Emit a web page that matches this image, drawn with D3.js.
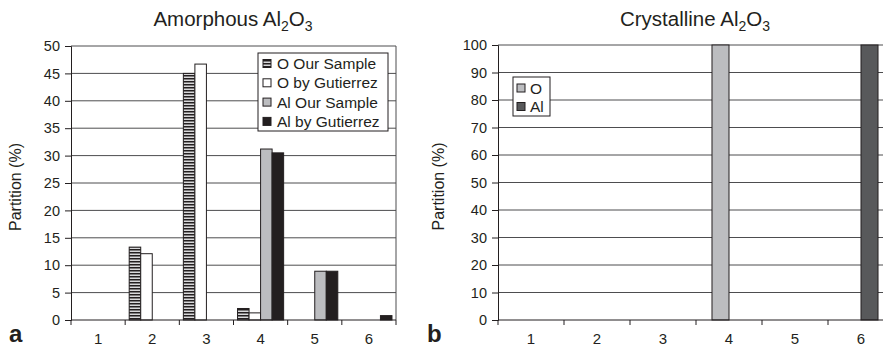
<!DOCTYPE html>
<html>
<head>
<meta charset="utf-8">
<script src="https://cdn.jsdelivr.net/npm/d3@7"></script>
<style>
  body { margin: 0; background: #fff; }
  text { font-family: "Liberation Sans", Arial, sans-serif; fill: #231f20; }
  .tick text { font-size: 14.5px; }
  .grid line { stroke: #4d4d4f; stroke-width: 1; }
</style>
</head>
<body>
<svg id="chart" width="883" height="349"></svg>
<script>
// data
var categories = ["1", "2", "3", "4", "5", "6"];

var amorphSeries = ["O Our Sample", "O by Gutierrez", "Al Our Sample", "Al by Gutierrez"];
var oOurSample   = [0, 13.3, 45.0, 2.1, 0, 0];
var oGutierrez   = [0, 12.1, 46.7, 1.3, 0, 0];
var alOurSample  = [0, 0, 0, 31.2, 8.9, 0];
var alGutierrez  = [0, 0, 0, 30.5, 8.9, 0.8];
var amorphTicks  = [0, 5, 10, 15, 20, 25, 30, 35, 40, 45, 50];

var crystSeries  = ["O", "Al"];
var crystO       = [0, 0, 0, 100, 0, 0];
var crystAl      = [0, 0, 0, 0, 0, 100];
var crystTicks   = [0, 10, 20, 30, 40, 50, 60, 70, 80, 90, 100];

var svg = d3.select("#chart");

// hatch pattern for "O Our Sample"
var defs = svg.append("defs");
var pat = defs.append("pattern")
    .attr("id", "hatch")
    .attr("patternUnits", "userSpaceOnUse")
    .attr("width", 4)
    .attr("height", 3);
pat.append("rect").attr("width", 4).attr("height", 3).attr("fill", "#d9d9db");
pat.append("rect").attr("width", 4).attr("height", 1.5).attr("fill", "#231f20");

function drawPanel(opt) {
    var g = svg.append("g");
    var x = d3.scaleBand().domain(categories).range([opt.left, opt.right]);
    var xs = d3.scaleBand().domain(opt.series).range([0, x.bandwidth()]).paddingOuter(opt.pad);
    var y = d3.scaleLinear().domain([0, opt.max]).range([opt.bottom, opt.top]);

    // gridlines
    g.append("g")
        .attr("class", "grid")
        .selectAll("line")
        .data(opt.ticks.slice(1))
        .enter().append("line")
            .attr("x1", opt.left)
            .attr("x2", opt.right)
            .attr("y1", function(d) { return y(d); })
            .attr("y2", function(d) { return y(d); });

    // right border
    g.append("line")
        .attr("x1", opt.right).attr("x2", opt.right)
        .attr("y1", opt.top).attr("y2", opt.bottom)
        .attr("stroke", "#4d4d4f");

    // bars (zero values are not drawn)
    opt.values.forEach(function(vals, si) {
        var pts = vals.map(function(v, i) { return { cat: categories[i], v: v }; })
                      .filter(function(d) { return d.v > 0; });
        g.append("g").selectAll("rect")
            .data(pts)
            .enter().append("rect")
                .attr("x", function(d) { return x(d.cat) + xs(opt.series[si]); })
                .attr("y", function(d) { return y(d.v); })
                .attr("width", xs.bandwidth())
                .attr("height", function(d) { return opt.bottom - y(d.v); })
                .attr("fill", opt.fills[si])
                .attr("stroke", "#231f20")
                .attr("stroke-width", 1);
    });

    // y axis
    var yAxis = g.append("g")
        .attr("transform", "translate(" + opt.left + ",0)")
        .call(d3.axisLeft(y).tickValues(opt.ticks).tickSize(6).tickPadding(5));
    yAxis.select(".domain").attr("stroke", "#231f20");
    yAxis.selectAll(".tick line").attr("stroke", "#231f20");

    // x axis: ticks at category boundaries
    var edges = d3.range(categories.length + 1).map(function(i) {
        return opt.left + i * x.step();
    });
    g.append("line")
        .attr("x1", opt.left).attr("x2", opt.right)
        .attr("y1", opt.bottom).attr("y2", opt.bottom)
        .attr("stroke", "#231f20");
    g.append("g").selectAll("line")
        .data(edges)
        .enter().append("line")
            .attr("x1", function(d) { return d; })
            .attr("x2", function(d) { return d; })
            .attr("y1", opt.bottom)
            .attr("y2", opt.bottom + 5)
            .attr("stroke", "#231f20");
    g.append("g").selectAll("text")
        .data(categories)
        .enter().append("text")
            .attr("x", function(d) { return x(d) + x.bandwidth() / 2; })
            .attr("y", 344)
            .attr("text-anchor", "middle")
            .style("font-size", "15px")
            .text(function(d) { return d; });

    // y label
    g.append("text")
        .attr("transform", "translate(" + opt.labelX + "," + ((opt.top + opt.bottom) / 2 + 4) + ") rotate(-90)")
        .attr("text-anchor", "middle")
        .style("font-size", "16px")
        .text("Partition (%)");

    // title
    var t = g.append("text")
        .attr("x", opt.titleX)
        .attr("y", 26)
        .attr("text-anchor", "middle")
        .style("font-size", "20.5px");
    t.append("tspan").text(opt.title + " Al");
    t.append("tspan").attr("dy", 5).style("font-size", "14px").text("2");
    t.append("tspan").attr("dy", -5).text("O");
    t.append("tspan").attr("dy", 5).style("font-size", "14px").text("3");

    // panel letter
    g.append("text")
        .attr("x", opt.letterX)
        .attr("y", 342)
        .style("font-size", "24px")
        .style("font-weight", "bold")
        .text(opt.letter);

    // legend
    var lg = g.append("g");
    lg.append("rect")
        .attr("x", opt.legend.x).attr("y", opt.legend.y)
        .attr("width", opt.legend.w).attr("height", opt.legend.h)
        .attr("fill", "#fff")
        .attr("stroke", "#231f20");
    opt.series.forEach(function(s, i) {
        var ly = opt.legend.y + opt.legend.first + i * opt.legend.step;
        lg.append("rect")
            .attr("x", opt.legend.x + opt.legend.sw)
            .attr("y", ly - 4)
            .attr("width", 8).attr("height", 8)
            .attr("fill", opt.fills[i])
            .attr("stroke", "#231f20");
        lg.append("text")
            .attr("x", opt.legend.x + opt.legend.tx)
            .attr("y", ly + 5.5)
            .style("font-size", "15.5px")
            .text(s);
    });
}

drawPanel({
    left: 71, right: 396, top: 46, bottom: 320, max: 50,
    ticks: amorphTicks,
    series: amorphSeries,
    values: [oOurSample, oGutierrez, alOurSample, alGutierrez],
    fills: ["url(#hatch)", "#ffffff", "#bcbdc0", "#231f20"],
    pad: 0.35,
    labelX: 21, titleX: 233, letterX: 9, letter: "a",
    title: "Amorphous",
    legend: { x: 258, y: 53, w: 130, h: 78, first: 10.5, step: 19.3, sw: 5, tx: 19 }
});

drawPanel({
    left: 498, right: 894, top: 45, bottom: 320, max: 100,
    ticks: crystTicks,
    series: crystSeries,
    values: [crystO, crystAl],
    fills: ["#bcbdc0", "#58595b"],
    pad: 0.94,
    labelX: 444, titleX: 695, letterX: 427, letter: "b",
    title: "Crystalline",
    legend: { x: 513, y: 77, w: 37, h: 39, first: 11, step: 18.5, sw: 4, tx: 17 }
});
</script>
</body>
</html>
